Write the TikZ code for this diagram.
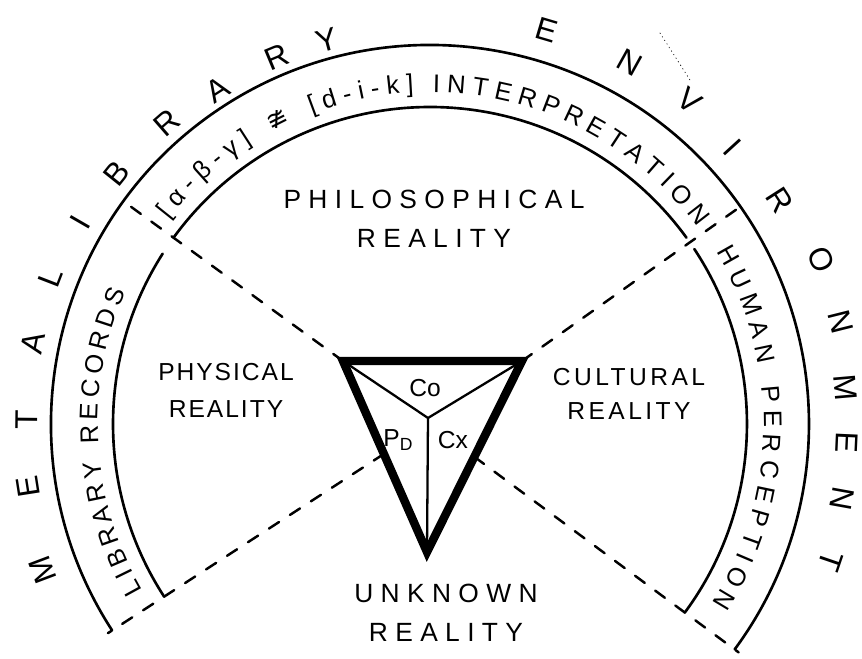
\documentclass[tikz,border=0pt]{standalone}
\usepackage{fontspec}
\setmainfont{Liberation Sans}
\newfontfamily\bandfont[LetterSpace=5]{Liberation Sans}
\newfontfamily\labelfont[LetterSpace=8]{Liberation Sans}
\newfontfamily\widefont[LetterSpace=28]{Liberation Sans}
\newfontfamily\signfont{DejaVu Sans}
\newcommand\bandtext{\bandfont\fontsize{14.5}{17}\selectfont}
\newcommand\signtext{\signfont\fontsize{14.5}{17}\selectfont}
\usetikzlibrary{calc,decorations.text}

\begin{document}
\begin{tikzpicture}[x=0.2mm, y=0.2mm, line cap=round,
    ring/.style={line width=1.5pt},
    cut/.style={line width=1.4pt, dash pattern=on 2.4mm off 2.6mm},
    band/.style={decorate, decoration={text along path, text align={fit to path}, text={#1}}},
    ringletter/.style={font=\fontsize{18}{21}\selectfont, inner sep=0pt},
    region/.style={font=\labelfont\fontsize{14}{21}\selectfont, align=center},
    wideregion/.style={font=\widefont\fontsize{15}{22}\selectfont, align=center},
    facet/.style={font=\fontsize{14}{16}\selectfont, inner sep=1pt}]
    \useasboundingbox (-430,-235) rectangle (432,424); \clip (-430,-235) rectangle (432,424);
    \coordinate (O) at (0,0); \coordinate (j) at (-2,6);
    \coordinate (tl) at (-87,63); \coordinate (tr) at (92,63); \coordinate (b) at (-3,-128);
    \coordinate (ul) at (144:379); \coordinate (ur) at (35:379);
    \coordinate (ll) at (213:384); \coordinate (lr) at (-36.5:384);
    \coordinate (pl) at (intersection of O--ll and tl--b); \coordinate (pr) at (intersection of O--lr and tr--b);
    \draw[ring] (213:379) arc[start angle=213, end angle=-36.5, radius=379];
    \draw[ring] (213:317) arc[start angle=213, end angle=147.5, radius=317]
        (144:317) arc[start angle=144, end angle=36, radius=317]
        (33.5:317) arc[start angle=33.5, end angle=-36.5, radius=317];
    \draw[cut] (tl)--(ul) (tr)--(ur) (pl)--(ll) (pr)--(lr);
    \draw[dotted, line width=0.4pt] (230,391)--(260,344);
    % the band texts run clockwise, so their letters stand with the top outwards
    \path[band={|\bandtext|LIBRARY RECORDS}] (210:332) arc[start angle=210, end angle=156.5, radius=332];
    \path[band={|\bandtext|[α-β-γ] |\signtext|≇|\bandtext| [d-i-k]}] (142:332) arc[start angle=142, end angle=92.8, radius=332];
    \path[band={|\bandtext|INTERPRETATION}] (89.5:332) arc[start angle=89.5, end angle=36.3, radius=332];
    \path[band={|\bandtext|HUMAN PERCEPTION}] (31:334) arc[start angle=31, end angle=-32.5, radius=334];
    \foreach \a/\r/\l [count=\i] in {200.7/414/M, 188.9/407/E, 179.4/403/T, 168.5/405/A, 158.9/407/L, 150/404/I,
        141.3/401/B, 131.1/400/R, 122.5/396/A, 112.6/398/R, 105/397/Y, 73.5/411/E, 61/413/N, 51.3/415/V,
        42.4/410/I, 32.6/415/R, 22.8/425/O, 14/423/N, 5/417/M, -2.6/417/E, -10.3/419/N, -18.9/424/T}
        {\node[ringletter, rotate=\a-90] (env\i) at (\a:\r) {\l};}
    \draw[line width=4.8pt, line join=miter] (tl)--(tr)--(b)--cycle;
    \draw[line width=1.3pt] (tl)--(j) (tr)--(j) (b)--(j);
    \node[facet] (co) at (-5,36) {Co}; \node[facet] (cx) at (23,-16) {Cx};
    \node[facet] (pd) at (-32,-16) {P\raisebox{-0.3ex}{\fontsize{10}{10}\selectfont D}};
    \node[wideregion] (phil) at (4,205) {PHILOSOPHICAL\\REALITY};
    \node[region] (phys) at (-204,34) {PHYSICAL\\REALITY};
    \node[region, font=\labelfont\addfontfeature{LetterSpace=14}\fontsize{14}{19}\selectfont] (cult) at (199,30) {CULTURAL\\REALITY};
    \node[wideregion] (unkn) at (16,-189) {UNKNOWN\\REALITY};
\end{tikzpicture}
\end{document}
